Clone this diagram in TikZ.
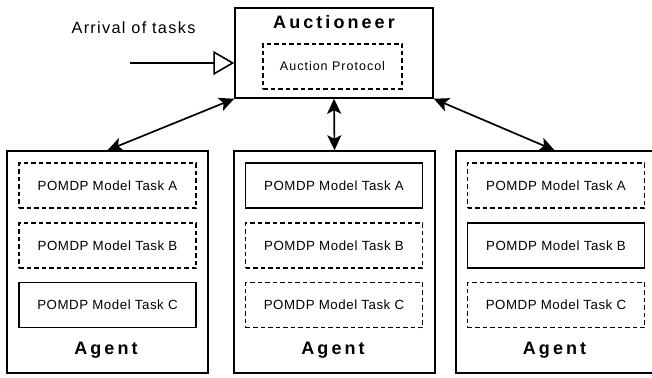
\documentclass[tikz,border=0pt]{standalone}
\usepackage{fontspec}
\setmainfont{Liberation Sans}
\newfontfamily\taskfont[LetterSpace=4]{Liberation Sans}
\newfontfamily\protofont[LetterSpace=8]{Liberation Sans}
\newfontfamily\arrfont[LetterSpace=8]{Liberation Sans}
\newfontfamily\titlefont[LetterSpace=17]{Liberation Sans}
\usetikzlibrary{arrows.meta}
\begin{document}
\begin{tikzpicture}[x=1pt,y=-1pt,
  outerbox/.style={draw,line width=1.5pt,minimum width=201pt,minimum height=222pt,inner sep=0pt},
  solidtask/.style={draw,line width=1.5pt,minimum width=177pt,minimum height=45pt,inner sep=0pt,font=\taskfont\fontsize{13.3}{15}\selectfont},
  dashtask/.style={solidtask,line width=1.7pt,dash pattern=on 4.5pt off 3pt},
  title/.style={font=\titlefont\bfseries\fontsize{18}{20}\selectfont,inner sep=0pt},
  dbl/.style={line width=1.7pt,{Stealth[length=15pt,width=14pt,inset=3.5pt]}-{Stealth[length=15pt,width=14pt,inset=3.5pt]}}
]
\path[use as bounding box] (0,0) rectangle (652,377);
% Auctioneer
\node[draw,line width=1.5pt,minimum width=198pt,minimum height=90pt,inner sep=0pt] (auct) at (334,53) {};
\node[title] (auctt) at (334,22) {Auctioneer};
\node[dashtask,minimum width=139pt,minimum height=45pt,font=\protofont\fontsize{12.5}{14}\selectfont] (proto) at (332.5,66.5) {Auction Protocol};
% arrival
\node[font=\arrfont\fontsize{16.3}{18}\selectfont,inner sep=0pt] (arrt) at (133.5,28) {Arrival of tasks};
\coordinate (arrs) at (130,63);
\draw[line width=1.6pt,-{Triangle[open,length=21pt,width=24pt,fill=white]}] (arrs) -- (auct.west |- arrs);
% agents
\node[outerbox] (agL) at (107.5,262) {};
\node[outerbox] (agM) at (334.5,262) {};
\node[outerbox,minimum width=197pt] (agR) at (554.5,262) {};
\node[title] (agLt) at (106,350) {Agent};
\node[title] (agMt) at (333,350) {Agent};
\node[title] (agRt) at (554.5,350) {Agent};
% tasks
\node[dashtask] (LA) at (107.5,185.5) {POMDP Model Task A};
\node[dashtask] (LB) at (107.5,245.5) {POMDP Model Task B};
\node[solidtask] (LC) at (107.5,305) {POMDP Model Task C};
\node[solidtask] (MA) at (334,185.5) {POMDP Model Task A};
\node[dashtask] (MB) at (334,245.5) {POMDP Model Task B};
\node[dashtask] (MC) at (334,305) {POMDP Model Task C};
\node[dashtask] (RA) at (556,185.5) {POMDP Model Task A};
\node[solidtask] (RB) at (556,245.5) {POMDP Model Task B};
\node[dashtask] (RC) at (556,305) {POMDP Model Task C};
% connectors
\draw[dbl] (auct.south west) -- (agL.north);
\draw[dbl] (auct.south) -- (agM.north);
\draw[dbl] (auct.south east) -- (agR.north);
\end{tikzpicture}
\end{document}
